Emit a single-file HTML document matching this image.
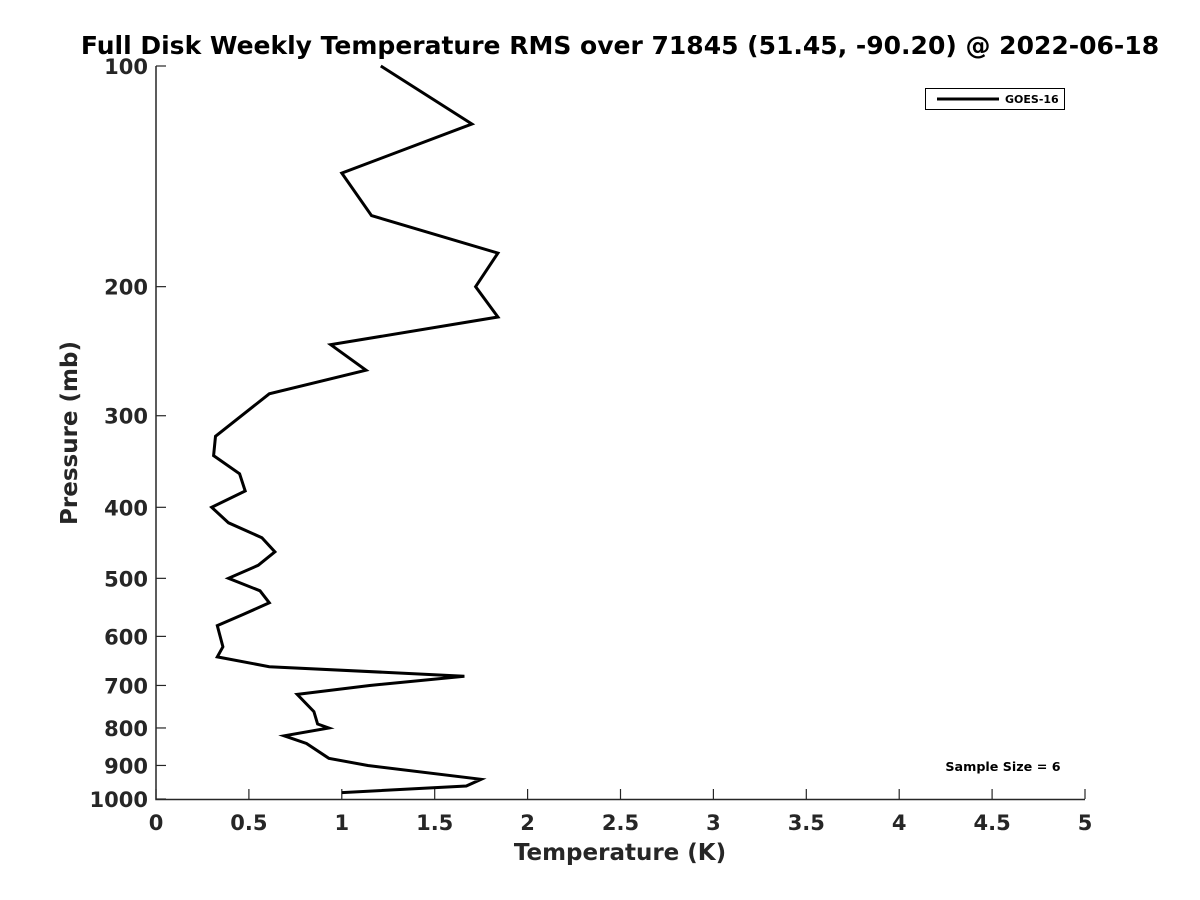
<!DOCTYPE html>
<html><head><meta charset="utf-8"><style>
body{margin:0;background:#fff}
svg{display:block;font-family:"DejaVu Sans","Liberation Sans",sans-serif;font-weight:bold}
</style></head><body>
<svg id="chart" width="1200" height="900">
<text x="620" y="54" text-anchor="middle" font-size="25" fill="#000">Full Disk Weekly Temperature RMS over 71845 (51.45, -90.20) @ 2022-06-18</text>
<g id="axes"></g>
<text transform="translate(77,433) rotate(-90)" text-anchor="middle" font-size="23" fill="#262626">Pressure (mb)</text>
<text x="620" y="860" text-anchor="middle" font-size="23" fill="#262626">Temperature (K)</text>
<polyline id="line" fill="none" stroke="#000" stroke-width="3" stroke-linejoin="miter"/>
<g>
<rect x="925.5" y="88.5" width="139" height="21" fill="#fff" stroke="#000" stroke-width="1"/>
<line x1="937" y1="99" x2="999" y2="99" stroke="#000" stroke-width="3"/>
<text x="1005" y="103" font-size="11" fill="#000">GOES-16</text>
</g>
<text x="1003" y="771" text-anchor="middle" font-size="12.7" fill="#000">Sample Size = 6</text>
</svg>
<script>
const pressures=[100,120,140,160,180,200,220,240,260,280,320,340,360,380,400,420,440,460,480,500,520,540,560,580,620,640,660,680,700,720,760,790,800,820,840,880,900,940,960,980];
const rms=[1.21,1.70,1.00,1.16,1.84,1.72,1.84,0.94,1.13,0.61,0.32,0.31,0.45,0.48,0.30,0.39,0.57,0.64,0.55,0.39,0.56,0.61,0.47,0.33,0.36,0.33,0.61,1.66,1.15,0.76,0.85,0.87,0.93,0.69,0.81,0.93,1.14,1.75,1.67,1.00];
const xTicks=[0,0.5,1,1.5,2,2.5,3,3.5,4,4.5,5];
const yTicks=[100,200,300,400,500,600,700,800,900,1000];
const X0=156,X1=1085,Y0=66,Y1=799;
const xs=v=>X0+(v-0)/(5-0)*(X1-X0);
const ys=p=>Y0+(Math.log10(p)-2)/1*(Y1-Y0);
const NS="http://www.w3.org/2000/svg";
const axes=document.getElementById('axes');
function mk(tag,attrs,parent){const e=document.createElementNS(NS,tag);for(const k in attrs)e.setAttribute(k,attrs[k]);parent.appendChild(e);return e;}
const ax=mk('path',{d:`M${X0},${Y0}V${Y1+0.5}H${X1}`,fill:'none',stroke:'#262626','stroke-width':1.5},axes);


xTicks.forEach(v=>{
 const x=xs(v);
 const t=mk('line',{x1:x,x2:x,y1:Y1,y2:Y1-10,stroke:'#262626','stroke-width':1.2},axes);
 
 
 const l=mk('text',{x:x,y:Y1+31,'text-anchor':'middle','font-size':21,fill:'#262626'},axes);
 l.textContent=String(v);
 
 
});
yTicks.forEach(p=>{
 const y=ys(p);
 const t=mk('line',{x1:X0,x2:X0+10,y1:y,y2:y,stroke:'#262626','stroke-width':1.2},axes);
 
 
 const l=mk('text',{x:X0-8,y:y+8,'text-anchor':'end','font-size':21,fill:'#262626'},axes);
 l.textContent=String(p);
 
 
});
document.getElementById('line').setAttribute('points',pressures.map((p,i)=>xs(rms[i]).toFixed(1)+','+ys(p).toFixed(1)).join(' '));
</script>
</body></html>
